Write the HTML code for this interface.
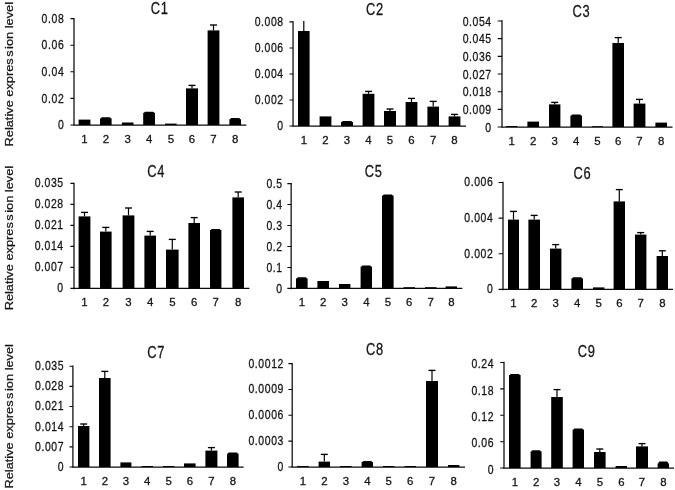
<!DOCTYPE html>
<html lang="en"><head><meta charset="utf-8"><title>Relative expression level C1-C9</title>
<style>html,body{margin:0;padding:0;background:#fff}svg{display:block}text{font-family:"Liberation Sans",Arial,Helvetica,sans-serif;fill:#161616}text{stroke:#161616;stroke-width:0.3px}.t{font-size:15.9px;letter-spacing:0.9px}.k{font-size:12.3px;letter-spacing:0.7px}.x{font-size:11.4px}.y{font-size:12.8px}</style></head><body>
<svg width="675" height="490" viewBox="0 0 675 490">
<rect width="675" height="490" fill="#fff"/>
<text class="y" transform="translate(12.7 146.45) rotate(-90) scale(1 0.89)">Relative expres<tspan dx="1.5">s</tspan><tspan dx="1.5">ion level</tspan></text>
<text class="y" transform="translate(12.7 310.35) rotate(-90) scale(1 0.89)">Relative expres<tspan dx="1.5">s</tspan><tspan dx="1.5">ion level</tspan></text>
<text class="y" transform="translate(12.7 488.55) rotate(-90) scale(1 0.89)">Relative expres<tspan dx="1.5">s</tspan><tspan dx="1.5">ion level</tspan></text>
<g>
<path d="M74.00 17.90V125.75 M73.25 125.00H246.40" stroke="#0a0a0a" stroke-width="1.25" fill="none"/>
<path d="M70.40 18.60H74.00M70.40 45.20H74.00M70.40 71.80H74.00M70.40 98.40H74.00M70.40 125.00H74.00" stroke="#0a0a0a" stroke-width="1.1" fill="none"/>
<text class="k" transform="translate(64.35 22.70) scale(0.85 1)" text-anchor="end">0.08</text>
<text class="k" transform="translate(64.35 49.30) scale(0.85 1)" text-anchor="end">0.06</text>
<text class="k" transform="translate(64.35 75.90) scale(0.85 1)" text-anchor="end">0.04</text>
<text class="k" transform="translate(64.35 102.50) scale(0.85 1)" text-anchor="end">0.02</text>
<text class="k" transform="translate(64.35 129.10) scale(0.85 1)" text-anchor="end">0</text>
<rect x="78.60" y="119.60" width="11.80" height="5.40" fill="#000"/>
<text class="x" x="84.50" y="142.50" text-anchor="middle">1</text>
<rect x="100.00" y="118.40" width="11.60" height="6.60" fill="#000"/>
<rect x="101.00" y="117.30" width="9.60" height="2.10" rx="1.2" fill="#000"/>
<text class="x" x="105.80" y="142.50" text-anchor="middle">2</text>
<rect x="121.90" y="122.50" width="11.60" height="2.50" fill="#000"/>
<text class="x" x="127.70" y="142.50" text-anchor="middle">3</text>
<rect x="143.20" y="112.80" width="11.80" height="12.20" fill="#000"/>
<rect x="144.20" y="111.70" width="9.80" height="2.10" rx="1.2" fill="#000"/>
<text class="x" x="149.10" y="142.50" text-anchor="middle">4</text>
<rect x="165.00" y="123.60" width="11.60" height="1.40" fill="#000"/>
<text class="x" x="170.80" y="142.50" text-anchor="middle">5</text>
<rect x="186.00" y="88.40" width="12.00" height="36.60" fill="#000"/>
<path d="M192.00 88.40V85.40" stroke="#000" stroke-width="1.2" fill="none"/><path d="M188.50 85.40H195.50" stroke="#000" stroke-width="1.35" fill="none"/>
<text class="x" x="192.00" y="142.50" text-anchor="middle">6</text>
<rect x="207.60" y="30.40" width="11.80" height="94.60" fill="#000"/>
<path d="M213.50 30.40V25.00" stroke="#000" stroke-width="1.2" fill="none"/><path d="M210.00 25.00H217.00" stroke="#000" stroke-width="1.35" fill="none"/>
<text class="x" x="213.50" y="142.50" text-anchor="middle">7</text>
<rect x="229.40" y="119.20" width="11.60" height="5.80" fill="#000"/>
<rect x="230.40" y="118.10" width="9.60" height="2.10" rx="1.2" fill="#000"/>
<text class="x" x="235.20" y="142.50" text-anchor="middle">8</text>
<text class="t" transform="translate(159.80 13.60) scale(0.81 1)" text-anchor="middle">C1</text>
</g>
<g>
<path d="M293.05 21.20V126.75 M292.30 126.00H466.00" stroke="#0a0a0a" stroke-width="1.25" fill="none"/>
<path d="M289.45 21.90H293.05M289.45 47.93H293.05M289.45 73.96H293.05M289.45 99.99H293.05M289.45 126.00H293.05" stroke="#0a0a0a" stroke-width="1.1" fill="none"/>
<text class="k" transform="translate(283.75 26.10) scale(0.85 1)" text-anchor="end">0.008</text>
<text class="k" transform="translate(283.75 52.13) scale(0.85 1)" text-anchor="end">0.006</text>
<text class="k" transform="translate(283.75 78.16) scale(0.85 1)" text-anchor="end">0.004</text>
<text class="k" transform="translate(283.75 104.19) scale(0.85 1)" text-anchor="end">0.002</text>
<text class="k" transform="translate(283.75 130.20) scale(0.85 1)" text-anchor="end">0</text>
<rect x="298.00" y="31.00" width="11.60" height="95.00" fill="#000"/>
<path d="M303.80 31.00V21.00" stroke="#000" stroke-width="1.2" fill="none"/>
<text class="x" x="303.80" y="143.70" text-anchor="middle">1</text>
<rect x="319.60" y="116.40" width="11.80" height="9.60" fill="#000"/>
<text class="x" x="325.50" y="143.70" text-anchor="middle">2</text>
<rect x="341.00" y="122.00" width="12.00" height="4.00" fill="#000"/>
<rect x="342.00" y="121.00" width="10.00" height="2.00" rx="1.2" fill="#000"/>
<text class="x" x="347.00" y="143.70" text-anchor="middle">3</text>
<rect x="362.60" y="93.80" width="11.80" height="32.20" fill="#000"/>
<path d="M368.50 93.80V91.40" stroke="#000" stroke-width="1.2" fill="none"/><path d="M365.00 91.40H372.00" stroke="#000" stroke-width="1.35" fill="none"/>
<text class="x" x="368.50" y="143.70" text-anchor="middle">4</text>
<rect x="384.00" y="111.00" width="12.00" height="15.00" fill="#000"/>
<path d="M390.00 111.00V109.00" stroke="#000" stroke-width="1.2" fill="none"/><path d="M386.50 109.00H393.50" stroke="#000" stroke-width="1.35" fill="none"/>
<text class="x" x="390.00" y="143.70" text-anchor="middle">5</text>
<rect x="405.60" y="102.00" width="11.80" height="24.00" fill="#000"/>
<path d="M411.50 102.00V98.40" stroke="#000" stroke-width="1.2" fill="none"/><path d="M408.00 98.40H415.00" stroke="#000" stroke-width="1.35" fill="none"/>
<text class="x" x="411.50" y="143.70" text-anchor="middle">6</text>
<rect x="427.40" y="106.60" width="11.60" height="19.40" fill="#000"/>
<path d="M433.20 106.60V101.40" stroke="#000" stroke-width="1.2" fill="none"/><path d="M429.70 101.40H436.70" stroke="#000" stroke-width="1.35" fill="none"/>
<text class="x" x="433.20" y="143.70" text-anchor="middle">7</text>
<rect x="448.60" y="116.40" width="11.80" height="9.60" fill="#000"/>
<path d="M454.50 116.40V114.40" stroke="#000" stroke-width="1.2" fill="none"/><path d="M451.00 114.40H458.00" stroke="#000" stroke-width="1.35" fill="none"/>
<text class="x" x="454.50" y="143.70" text-anchor="middle">8</text>
<text class="t" transform="translate(375.00 15.00) scale(0.81 1)" text-anchor="middle">C2</text>
</g>
<g>
<path d="M502.00 20.30V127.75 M501.25 127.00H672.50" stroke="#0a0a0a" stroke-width="1.25" fill="none"/>
<path d="M497.70 21.00H502.00M497.70 38.67H502.00M497.70 56.34H502.00M497.70 74.01H502.00M497.70 91.68H502.00M497.70 109.35H502.00M497.70 127.00H502.00" stroke="#0a0a0a" stroke-width="1.1" fill="none"/>
<text class="k" transform="translate(491.75 25.80) scale(0.85 1)" text-anchor="end">0.054</text>
<text class="k" transform="translate(491.75 43.47) scale(0.85 1)" text-anchor="end">0.045</text>
<text class="k" transform="translate(491.75 61.14) scale(0.85 1)" text-anchor="end">0.036</text>
<text class="k" transform="translate(491.75 78.81) scale(0.85 1)" text-anchor="end">0.027</text>
<text class="k" transform="translate(491.75 96.48) scale(0.85 1)" text-anchor="end">0.018</text>
<text class="k" transform="translate(491.75 114.15) scale(0.85 1)" text-anchor="end">0.009</text>
<text class="k" transform="translate(491.75 131.80) scale(0.85 1)" text-anchor="end">0</text>
<rect x="506.00" y="126.00" width="11.40" height="1.00" fill="#000"/>
<text class="x" x="511.70" y="145.10" text-anchor="middle">1</text>
<rect x="527.40" y="121.60" width="11.60" height="5.40" fill="#000"/>
<text class="x" x="533.20" y="145.10" text-anchor="middle">2</text>
<rect x="549.00" y="104.40" width="11.40" height="22.60" fill="#000"/>
<path d="M554.70 104.40V102.40" stroke="#000" stroke-width="1.2" fill="none"/><path d="M551.20 102.40H558.20" stroke="#000" stroke-width="1.35" fill="none"/>
<text class="x" x="554.70" y="145.10" text-anchor="middle">3</text>
<rect x="570.40" y="115.60" width="11.60" height="11.40" fill="#000"/>
<rect x="571.40" y="114.50" width="9.60" height="2.10" rx="1.2" fill="#000"/>
<text class="x" x="576.20" y="145.10" text-anchor="middle">4</text>
<rect x="592.00" y="126.20" width="11.00" height="0.80" fill="#000"/>
<text class="x" x="597.50" y="145.10" text-anchor="middle">5</text>
<rect x="612.40" y="43.00" width="11.60" height="84.00" fill="#000"/>
<path d="M618.20 43.00V37.60" stroke="#000" stroke-width="1.2" fill="none"/><path d="M614.70 37.60H621.70" stroke="#000" stroke-width="1.35" fill="none"/>
<text class="x" x="618.20" y="145.10" text-anchor="middle">6</text>
<rect x="633.60" y="103.60" width="11.80" height="23.40" fill="#000"/>
<path d="M639.50 103.60V99.40" stroke="#000" stroke-width="1.2" fill="none"/><path d="M636.00 99.40H643.00" stroke="#000" stroke-width="1.35" fill="none"/>
<text class="x" x="639.50" y="145.10" text-anchor="middle">7</text>
<rect x="655.40" y="122.60" width="11.60" height="4.40" fill="#000"/>
<text class="x" x="661.20" y="145.10" text-anchor="middle">8</text>
<text class="t" transform="translate(581.40 16.50) scale(0.81 1)" text-anchor="middle">C3</text>
</g>
<g>
<path d="M74.00 182.70V289.15 M73.25 288.40H249.40" stroke="#0a0a0a" stroke-width="1.25" fill="none"/>
<path d="M70.40 183.40H74.00M70.40 204.40H74.00M70.40 225.40H74.00M70.40 246.40H74.00M70.40 267.40H74.00M70.40 288.40H74.00" stroke="#0a0a0a" stroke-width="1.1" fill="none"/>
<text class="k" transform="translate(63.75 187.40) scale(0.85 1)" text-anchor="end">0.035</text>
<text class="k" transform="translate(63.75 208.40) scale(0.85 1)" text-anchor="end">0.028</text>
<text class="k" transform="translate(63.75 229.40) scale(0.85 1)" text-anchor="end">0.021</text>
<text class="k" transform="translate(63.75 250.40) scale(0.85 1)" text-anchor="end">0.014</text>
<text class="k" transform="translate(63.75 271.40) scale(0.85 1)" text-anchor="end">0.007</text>
<text class="k" transform="translate(63.75 292.40) scale(0.85 1)" text-anchor="end">0</text>
<rect x="78.60" y="216.40" width="11.80" height="72.00" fill="#000"/>
<path d="M84.50 216.40V212.40" stroke="#000" stroke-width="1.2" fill="none"/><path d="M81.00 212.40H88.00" stroke="#000" stroke-width="1.35" fill="none"/>
<text class="x" x="84.50" y="306.10" text-anchor="middle">1</text>
<rect x="100.00" y="231.60" width="11.60" height="56.80" fill="#000"/>
<path d="M105.80 231.60V227.40" stroke="#000" stroke-width="1.2" fill="none"/><path d="M102.30 227.40H109.30" stroke="#000" stroke-width="1.35" fill="none"/>
<text class="x" x="105.80" y="306.10" text-anchor="middle">2</text>
<rect x="122.60" y="215.40" width="11.80" height="73.00" fill="#000"/>
<path d="M128.50 215.40V208.00" stroke="#000" stroke-width="1.2" fill="none"/><path d="M125.00 208.00H132.00" stroke="#000" stroke-width="1.35" fill="none"/>
<text class="x" x="128.50" y="306.10" text-anchor="middle">3</text>
<rect x="144.40" y="235.60" width="11.60" height="52.80" fill="#000"/>
<path d="M150.20 235.60V231.40" stroke="#000" stroke-width="1.2" fill="none"/><path d="M146.70 231.40H153.70" stroke="#000" stroke-width="1.35" fill="none"/>
<text class="x" x="150.20" y="306.10" text-anchor="middle">4</text>
<rect x="166.00" y="249.60" width="12.60" height="38.80" fill="#000"/>
<path d="M172.30 249.60V239.40" stroke="#000" stroke-width="1.2" fill="none"/><path d="M168.80 239.40H175.80" stroke="#000" stroke-width="1.35" fill="none"/>
<text class="x" x="172.30" y="306.10" text-anchor="middle">5</text>
<rect x="188.40" y="223.00" width="11.60" height="65.40" fill="#000"/>
<path d="M194.20 223.00V217.60" stroke="#000" stroke-width="1.2" fill="none"/><path d="M190.70 217.60H197.70" stroke="#000" stroke-width="1.35" fill="none"/>
<text class="x" x="194.20" y="306.10" text-anchor="middle">6</text>
<rect x="210.00" y="230.00" width="11.40" height="58.40" fill="#000"/>
<rect x="211.00" y="228.90" width="9.40" height="2.10" rx="1.2" fill="#000"/>
<text class="x" x="215.70" y="306.10" text-anchor="middle">7</text>
<rect x="232.40" y="197.40" width="11.60" height="91.00" fill="#000"/>
<path d="M238.20 197.40V192.00" stroke="#000" stroke-width="1.2" fill="none"/><path d="M234.70 192.00H241.70" stroke="#000" stroke-width="1.35" fill="none"/>
<text class="x" x="238.20" y="306.10" text-anchor="middle">8</text>
<text class="t" transform="translate(156.20 176.50) scale(0.81 1)" text-anchor="middle">C4</text>
</g>
<g>
<path d="M291.15 182.90V289.15 M290.40 288.40H462.40" stroke="#0a0a0a" stroke-width="1.25" fill="none"/>
<path d="M287.35 183.60H291.15M287.35 204.56H291.15M287.35 225.52H291.15M287.35 246.48H291.15M287.35 267.44H291.15M287.35 288.40H291.15" stroke="#0a0a0a" stroke-width="1.1" fill="none"/>
<text class="k" transform="translate(282.75 187.80) scale(0.85 1)" text-anchor="end">0.5</text>
<text class="k" transform="translate(282.75 208.76) scale(0.85 1)" text-anchor="end">0.4</text>
<text class="k" transform="translate(282.75 229.72) scale(0.85 1)" text-anchor="end">0.3</text>
<text class="k" transform="translate(282.75 250.68) scale(0.85 1)" text-anchor="end">0.2</text>
<text class="k" transform="translate(282.75 271.64) scale(0.85 1)" text-anchor="end">0.1</text>
<text class="k" transform="translate(282.75 292.60) scale(0.85 1)" text-anchor="end">0</text>
<rect x="296.00" y="278.40" width="11.60" height="10.00" fill="#000"/>
<rect x="297.00" y="277.30" width="9.60" height="2.10" rx="1.2" fill="#000"/>
<text class="x" x="301.80" y="306.10" text-anchor="middle">1</text>
<rect x="317.40" y="281.00" width="11.60" height="7.40" fill="#000"/>
<text class="x" x="323.20" y="306.10" text-anchor="middle">2</text>
<rect x="339.00" y="284.00" width="11.40" height="4.40" fill="#000"/>
<text class="x" x="344.70" y="306.10" text-anchor="middle">3</text>
<rect x="360.60" y="266.60" width="11.40" height="21.80" fill="#000"/>
<rect x="361.60" y="265.50" width="9.40" height="2.10" rx="1.2" fill="#000"/>
<text class="x" x="366.30" y="306.10" text-anchor="middle">4</text>
<rect x="382.00" y="195.60" width="11.60" height="92.80" fill="#000"/>
<rect x="383.00" y="194.50" width="9.60" height="2.10" rx="1.2" fill="#000"/>
<text class="x" x="387.80" y="306.10" text-anchor="middle">5</text>
<rect x="403.50" y="287.20" width="11.50" height="1.20" fill="#000"/>
<text class="x" x="409.25" y="306.10" text-anchor="middle">6</text>
<rect x="425.00" y="287.20" width="11.50" height="1.20" fill="#000"/>
<text class="x" x="430.75" y="306.10" text-anchor="middle">7</text>
<rect x="445.60" y="286.40" width="11.40" height="2.00" fill="#000"/>
<text class="x" x="451.30" y="306.10" text-anchor="middle">8</text>
<text class="t" transform="translate(373.70 177.40) scale(0.81 1)" text-anchor="middle">C5</text>
</g>
<g>
<path d="M503.00 181.80V290.15 M502.25 289.40H673.00" stroke="#0a0a0a" stroke-width="1.25" fill="none"/>
<path d="M498.60 182.50H503.00M498.60 218.13H503.00M498.60 253.76H503.00M498.60 289.40H503.00" stroke="#0a0a0a" stroke-width="1.1" fill="none"/>
<text class="k" transform="translate(493.35 186.40) scale(0.85 1)" text-anchor="end">0.006</text>
<text class="k" transform="translate(493.35 222.03) scale(0.85 1)" text-anchor="end">0.004</text>
<text class="k" transform="translate(493.35 257.66) scale(0.85 1)" text-anchor="end">0.002</text>
<text class="k" transform="translate(493.35 293.30) scale(0.85 1)" text-anchor="end">0</text>
<rect x="508.00" y="219.60" width="11.00" height="69.80" fill="#000"/>
<path d="M513.50 219.60V211.40" stroke="#000" stroke-width="1.2" fill="none"/><path d="M510.00 211.40H517.00" stroke="#000" stroke-width="1.35" fill="none"/>
<text class="x" x="513.50" y="307.00" text-anchor="middle">1</text>
<rect x="528.40" y="219.60" width="11.60" height="69.80" fill="#000"/>
<path d="M534.20 219.60V215.40" stroke="#000" stroke-width="1.2" fill="none"/><path d="M530.70 215.40H537.70" stroke="#000" stroke-width="1.35" fill="none"/>
<text class="x" x="534.20" y="307.00" text-anchor="middle">2</text>
<rect x="550.00" y="248.60" width="11.40" height="40.80" fill="#000"/>
<path d="M555.70 248.60V244.60" stroke="#000" stroke-width="1.2" fill="none"/><path d="M552.20 244.60H559.20" stroke="#000" stroke-width="1.35" fill="none"/>
<text class="x" x="555.70" y="307.00" text-anchor="middle">3</text>
<rect x="571.40" y="278.40" width="11.60" height="11.00" fill="#000"/>
<rect x="572.40" y="277.30" width="9.60" height="2.10" rx="1.2" fill="#000"/>
<text class="x" x="577.20" y="307.00" text-anchor="middle">4</text>
<rect x="593.00" y="287.40" width="11.40" height="2.00" fill="#000"/>
<text class="x" x="598.70" y="307.00" text-anchor="middle">5</text>
<rect x="613.60" y="201.40" width="11.40" height="88.00" fill="#000"/>
<path d="M619.30 201.40V189.60" stroke="#000" stroke-width="1.2" fill="none"/><path d="M615.80 189.60H622.80" stroke="#000" stroke-width="1.35" fill="none"/>
<text class="x" x="619.30" y="307.00" text-anchor="middle">6</text>
<rect x="635.00" y="234.60" width="11.40" height="54.80" fill="#000"/>
<path d="M640.70 234.60V232.60" stroke="#000" stroke-width="1.2" fill="none"/><path d="M637.20 232.60H644.20" stroke="#000" stroke-width="1.35" fill="none"/>
<text class="x" x="640.70" y="307.00" text-anchor="middle">7</text>
<rect x="656.60" y="256.00" width="11.40" height="33.40" fill="#000"/>
<path d="M662.30 256.00V250.80" stroke="#000" stroke-width="1.2" fill="none"/><path d="M658.80 250.80H665.80" stroke="#000" stroke-width="1.35" fill="none"/>
<text class="x" x="662.30" y="307.00" text-anchor="middle">8</text>
<text class="t" transform="translate(582.40 178.90) scale(0.81 1)" text-anchor="middle">C6</text>
</g>
<g>
<path d="M72.90 365.50V467.75 M72.15 467.00H243.60" stroke="#0a0a0a" stroke-width="1.25" fill="none"/>
<path d="M69.50 366.20H72.90M69.50 386.36H72.90M69.50 406.52H72.90M69.50 426.68H72.90M69.50 446.84H72.90M69.50 467.00H72.90" stroke="#0a0a0a" stroke-width="1.1" fill="none"/>
<text class="k" transform="translate(64.15 370.10) scale(0.85 1)" text-anchor="end">0.035</text>
<text class="k" transform="translate(64.15 390.26) scale(0.85 1)" text-anchor="end">0.028</text>
<text class="k" transform="translate(64.15 410.42) scale(0.85 1)" text-anchor="end">0.021</text>
<text class="k" transform="translate(64.15 430.58) scale(0.85 1)" text-anchor="end">0.014</text>
<text class="k" transform="translate(64.15 450.74) scale(0.85 1)" text-anchor="end">0.007</text>
<text class="k" transform="translate(64.15 470.90) scale(0.85 1)" text-anchor="end">0</text>
<rect x="78.00" y="426.00" width="11.40" height="41.00" fill="#000"/>
<path d="M83.70 426.00V424.00" stroke="#000" stroke-width="1.2" fill="none"/><path d="M80.20 424.00H87.20" stroke="#000" stroke-width="1.35" fill="none"/>
<text class="x" x="83.70" y="484.70" text-anchor="middle">1</text>
<rect x="99.00" y="378.00" width="11.60" height="89.00" fill="#000"/>
<path d="M104.80 378.00V371.40" stroke="#000" stroke-width="1.2" fill="none"/><path d="M101.30 371.40H108.30" stroke="#000" stroke-width="1.35" fill="none"/>
<text class="x" x="104.80" y="484.70" text-anchor="middle">2</text>
<rect x="120.40" y="462.40" width="11.00" height="4.60" fill="#000"/>
<text class="x" x="125.90" y="484.70" text-anchor="middle">3</text>
<rect x="141.50" y="466.00" width="11.50" height="1.00" fill="#000"/>
<text class="x" x="147.25" y="484.70" text-anchor="middle">4</text>
<rect x="163.00" y="466.00" width="11.50" height="1.00" fill="#000"/>
<text class="x" x="168.75" y="484.70" text-anchor="middle">5</text>
<rect x="184.00" y="463.40" width="11.60" height="3.60" fill="#000"/>
<text class="x" x="189.80" y="484.70" text-anchor="middle">6</text>
<rect x="205.40" y="450.60" width="12.00" height="16.40" fill="#000"/>
<path d="M211.40 450.60V447.60" stroke="#000" stroke-width="1.2" fill="none"/><path d="M207.90 447.60H214.90" stroke="#000" stroke-width="1.35" fill="none"/>
<text class="x" x="211.40" y="484.70" text-anchor="middle">7</text>
<rect x="227.00" y="453.60" width="11.60" height="13.40" fill="#000"/>
<rect x="228.00" y="452.50" width="9.60" height="2.10" rx="1.2" fill="#000"/>
<text class="x" x="232.80" y="484.70" text-anchor="middle">8</text>
<text class="t" transform="translate(156.20 358.00) scale(0.81 1)" text-anchor="middle">C7</text>
</g>
<g>
<path d="M292.20 362.90V467.75 M291.45 467.00H465.00" stroke="#0a0a0a" stroke-width="1.25" fill="none"/>
<path d="M288.40 363.60H292.20M288.40 389.45H292.20M288.40 415.30H292.20M288.40 441.15H292.20M288.40 467.00H292.20" stroke="#0a0a0a" stroke-width="1.1" fill="none"/>
<text class="k" transform="translate(283.95 367.50) scale(0.85 1)" text-anchor="end">0.0012</text>
<text class="k" transform="translate(283.95 393.35) scale(0.85 1)" text-anchor="end">0.0009</text>
<text class="k" transform="translate(283.95 419.20) scale(0.85 1)" text-anchor="end">0.0006</text>
<text class="k" transform="translate(283.95 445.05) scale(0.85 1)" text-anchor="end">0.0003</text>
<text class="k" transform="translate(283.95 470.90) scale(0.85 1)" text-anchor="end">0</text>
<rect x="297.00" y="466.00" width="11.60" height="1.00" fill="#000"/>
<text class="x" x="302.80" y="484.70" text-anchor="middle">1</text>
<rect x="318.60" y="461.60" width="11.40" height="5.40" fill="#000"/>
<path d="M324.30 461.60V454.40" stroke="#000" stroke-width="1.2" fill="none"/><path d="M320.80 454.40H327.80" stroke="#000" stroke-width="1.35" fill="none"/>
<text class="x" x="324.30" y="484.70" text-anchor="middle">2</text>
<rect x="340.00" y="466.00" width="11.60" height="1.00" fill="#000"/>
<text class="x" x="345.80" y="484.70" text-anchor="middle">3</text>
<rect x="361.60" y="462.00" width="11.40" height="5.00" fill="#000"/>
<rect x="362.60" y="460.90" width="9.40" height="2.10" rx="1.2" fill="#000"/>
<text class="x" x="367.30" y="484.70" text-anchor="middle">4</text>
<rect x="383.00" y="466.00" width="11.50" height="1.00" fill="#000"/>
<text class="x" x="388.75" y="484.70" text-anchor="middle">5</text>
<rect x="404.50" y="466.00" width="11.50" height="1.00" fill="#000"/>
<text class="x" x="410.25" y="484.70" text-anchor="middle">6</text>
<rect x="426.00" y="381.00" width="12.00" height="86.00" fill="#000"/>
<path d="M432.00 381.00V370.40" stroke="#000" stroke-width="1.2" fill="none"/><path d="M428.50 370.40H435.50" stroke="#000" stroke-width="1.35" fill="none"/>
<text class="x" x="432.00" y="484.70" text-anchor="middle">7</text>
<rect x="448.00" y="465.00" width="11.40" height="2.00" fill="#000"/>
<text class="x" x="453.70" y="484.70" text-anchor="middle">8</text>
<text class="t" transform="translate(374.90 354.70) scale(0.81 1)" text-anchor="middle">C8</text>
</g>
<g>
<path d="M504.00 361.80V468.75 M503.25 468.00H674.00" stroke="#0a0a0a" stroke-width="1.25" fill="none"/>
<path d="M500.20 362.50H504.00M500.20 388.90H504.00M500.20 415.30H504.00M500.20 441.70H504.00M500.20 468.00H504.00" stroke="#0a0a0a" stroke-width="1.1" fill="none"/>
<text class="k" transform="translate(494.15 368.20) scale(0.85 1)" text-anchor="end">0.24</text>
<text class="k" transform="translate(494.15 394.60) scale(0.85 1)" text-anchor="end">0.18</text>
<text class="k" transform="translate(494.15 421.00) scale(0.85 1)" text-anchor="end">0.12</text>
<text class="k" transform="translate(494.15 447.40) scale(0.85 1)" text-anchor="end">0.06</text>
<text class="k" transform="translate(494.15 473.70) scale(0.85 1)" text-anchor="end">0</text>
<rect x="509.00" y="375.00" width="11.60" height="93.00" fill="#000"/>
<rect x="510.00" y="373.90" width="9.60" height="2.10" rx="1.2" fill="#000"/>
<text class="x" x="514.80" y="486.10" text-anchor="middle">1</text>
<rect x="530.60" y="451.40" width="11.00" height="16.60" fill="#000"/>
<rect x="531.60" y="450.30" width="9.00" height="2.10" rx="1.2" fill="#000"/>
<text class="x" x="536.10" y="486.10" text-anchor="middle">2</text>
<rect x="551.20" y="397.00" width="11.60" height="71.00" fill="#000"/>
<path d="M557.00 397.00V389.60" stroke="#000" stroke-width="1.2" fill="none"/><path d="M553.50 389.60H560.50" stroke="#000" stroke-width="1.35" fill="none"/>
<text class="x" x="557.00" y="486.10" text-anchor="middle">3</text>
<rect x="572.60" y="429.60" width="11.40" height="38.40" fill="#000"/>
<rect x="573.60" y="428.50" width="9.40" height="2.10" rx="1.2" fill="#000"/>
<text class="x" x="578.30" y="486.10" text-anchor="middle">4</text>
<rect x="594.00" y="452.00" width="11.60" height="16.00" fill="#000"/>
<path d="M599.80 452.00V449.00" stroke="#000" stroke-width="1.2" fill="none"/><path d="M596.30 449.00H603.30" stroke="#000" stroke-width="1.35" fill="none"/>
<text class="x" x="599.80" y="486.10" text-anchor="middle">5</text>
<rect x="615.60" y="466.00" width="11.40" height="2.00" fill="#000"/>
<text class="x" x="621.30" y="486.10" text-anchor="middle">6</text>
<rect x="636.00" y="446.40" width="12.00" height="21.60" fill="#000"/>
<path d="M642.00 446.40V443.60" stroke="#000" stroke-width="1.2" fill="none"/><path d="M638.50 443.60H645.50" stroke="#000" stroke-width="1.35" fill="none"/>
<text class="x" x="642.00" y="486.10" text-anchor="middle">7</text>
<rect x="657.60" y="463.40" width="11.40" height="4.60" fill="#000"/>
<rect x="658.60" y="461.50" width="9.40" height="2.90" rx="1.2" fill="#000"/>
<text class="x" x="663.30" y="486.10" text-anchor="middle">8</text>
<text class="t" transform="translate(586.60 356.70) scale(0.81 1)" text-anchor="middle">C9</text>
</g>
</svg></body></html>
